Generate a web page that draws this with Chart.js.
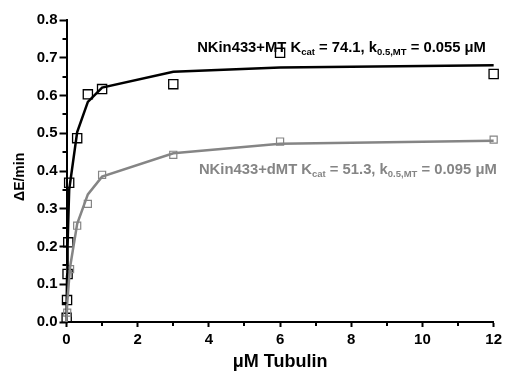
<!DOCTYPE html>
<html>
<head>
<meta charset="utf-8">
<script src="https://cdn.jsdelivr.net/npm/chart.js@4.4.1/dist/chart.umd.min.js"></script>
<style>
  html, body { margin: 0; padding: 0; background: #fff; }
  #wrap { width: 506px; height: 373px; position: relative; }
</style>
</head>
<body>
<div id="wrap"><canvas id="c" width="506" height="373"></canvas></div>
<script>
// ---- data ----
const mtX = [0.005, 0.015, 0.03, 0.05, 0.075, 0.3, 0.6, 1, 3, 6, 12];
const mtY = [0.011, 0.058, 0.127, 0.211, 0.369, 0.487, 0.603, 0.617, 0.630, 0.713, 0.657];
const mtFitX = [0, 0.005, 0.015, 0.03, 0.05, 0.075, 0.3, 0.6, 1, 3, 6, 12];
const mtFitY = [0, 0.05, 0.12, 0.2, 0.27, 0.35, 0.503, 0.583, 0.621, 0.663, 0.674, 0.680];

const dmtX = [0.02, 0.1, 0.3, 0.6, 1, 3, 6, 12];
const dmtY = [0.025, 0.14, 0.255, 0.313, 0.39, 0.443, 0.478, 0.483];
const dmtFitX = [0, 0.02, 0.1, 0.3, 0.6, 1, 3, 6, 12];
const dmtFitY = [0, 0.05, 0.145, 0.26, 0.338, 0.385, 0.447, 0.472, 0.480];

const xMinorTicks = [1, 3, 5, 7, 9, 11];
const yMinorTicks = [0.05, 0.15, 0.25, 0.35, 0.45, 0.55, 0.65, 0.75];

const mtLabel = [["NKin433+MT K", false], ["cat", true], [" = 74.1, k", false], ["0.5,MT", true], [" = 0.055 \u03BCM", false]];
const dmtLabel = [["NKin433+dMT K", false], ["cat", true], [" = 51.3, k", false], ["0.5,MT", true], [" = 0.095 \u03BCM", false]];
const mtLabelPos = [3.67, 0.716];
const dmtLabelPos = [3.72, 0.3925];

const xTitle = "\u03BCM Tubulin";
const yTitle = "\u0394E/min   ";

// ---- build ----
const toPts = (xs, ys) => xs.map((x, i) => ({ x: x, y: ys[i] }));
const FONT = "'Liberation Sans', Arial, sans-serif";
const BLACK = "#000000";
const GRAY = "#858585";

const minorTicks = {
  id: "minorTicks",
  afterDraw(chart) {
    const ctx = chart.ctx;
    const xs = chart.scales.x, ys = chart.scales.y;
    ctx.save();
    ctx.strokeStyle = "#000";
    ctx.lineWidth = 2;
    ctx.beginPath();
    xMinorTicks.forEach(v => {
      const px = Math.round(xs.getPixelForValue(v));
      ctx.moveTo(px, ys.bottom);
      ctx.lineTo(px, ys.bottom + 4);
    });
    yMinorTicks.forEach(v => {
      const py = Math.round(ys.getPixelForValue(v));
      ctx.moveTo(xs.left, py);
      ctx.lineTo(xs.left - 4, py);
    });
    ctx.stroke();
    ctx.restore();
  }
};

function drawRich(ctx, parts, x, y, color) {
  ctx.fillStyle = color;
  ctx.textBaseline = "alphabetic";
  ctx.textAlign = "left";
  let cx = x;
  parts.forEach(([t, sub]) => {
    ctx.font = sub ? "bold 9.5px " + FONT : "bold 14.8px " + FONT;
    ctx.fillText(t, cx, sub ? y + 3 : y);
    cx += ctx.measureText(t).width;
  });
}

const labels = {
  id: "labels",
  afterDatasetsDraw(chart) {
    const ctx = chart.ctx;
    const xs = chart.scales.x, ys = chart.scales.y;
    ctx.save();
    drawRich(ctx, mtLabel, xs.getPixelForValue(mtLabelPos[0]), ys.getPixelForValue(mtLabelPos[1]), BLACK);
    drawRich(ctx, dmtLabel, xs.getPixelForValue(dmtLabelPos[0]), ys.getPixelForValue(dmtLabelPos[1]), GRAY);
    ctx.restore();
  }
};

new Chart(document.getElementById("c"), {
  type: "scatter",
  data: {
    datasets: [
      { data: toPts(dmtFitX, dmtFitY), showLine: true, clip: false, borderColor: GRAY, borderWidth: 2.5, pointRadius: 0, tension: 0, fill: false },
      { data: toPts(mtFitX, mtFitY), showLine: true, clip: false, borderColor: BLACK, borderWidth: 2.5, pointRadius: 0, tension: 0, fill: false },
      { data: toPts(dmtX, dmtY), showLine: false, clip: false, pointStyle: "rect", pointRadius: 5, borderColor: GRAY, borderWidth: 1.2, backgroundColor: "rgba(0,0,0,0)" },
      { data: toPts(mtX, mtY), showLine: false, clip: false, pointStyle: "rect", pointRadius: 6.5, borderColor: BLACK, borderWidth: 1.3, backgroundColor: "rgba(0,0,0,0)" }
    ]
  },
  options: {
    responsive: false,
    animation: false,
    events: [],
    layout: { padding: { top: 20, right: 10, left: 0, bottom: 0 } },
    plugins: { legend: { display: false }, tooltip: { enabled: false } },
    scales: {
      x: {
        type: "linear", min: 0, max: 12,
        afterFit(s) { s.height = 51; },
        border: { display: true, color: "#000", width: 2 },
        grid: { display: true, drawOnChartArea: false, drawTicks: true, tickLength: 5, tickWidth: 2, tickColor: "#000" },
        ticks: { stepSize: 2, color: "#000", padding: 4, font: { family: FONT, size: 15, weight: "bold" } },
        title: { display: true, text: xTitle, color: "#000", padding: { top: 0, bottom: 0 }, font: { family: FONT, size: 18, weight: "bold" } }
      },
      y: {
        type: "linear", min: 0, max: 0.8,
        afterFit(s) { s.width = 66.5; },
        border: { display: true, color: "#000", width: 2 },
        grid: { display: true, drawOnChartArea: false, drawTicks: true, tickLength: 7, tickWidth: 2, tickColor: "#000" },
        ticks: { stepSize: 0.1, color: "#000", padding: 2, font: { family: FONT, size: 15, weight: "bold" },
                 callback: v => Number(v).toFixed(1) },
        title: { display: true, text: yTitle, color: "#000", padding: { top: 12, bottom: 0 }, font: { family: FONT, size: 14, weight: "bold" } }
      }
    }
  },
  plugins: [minorTicks, labels]
});
</script>
</body>
</html>
